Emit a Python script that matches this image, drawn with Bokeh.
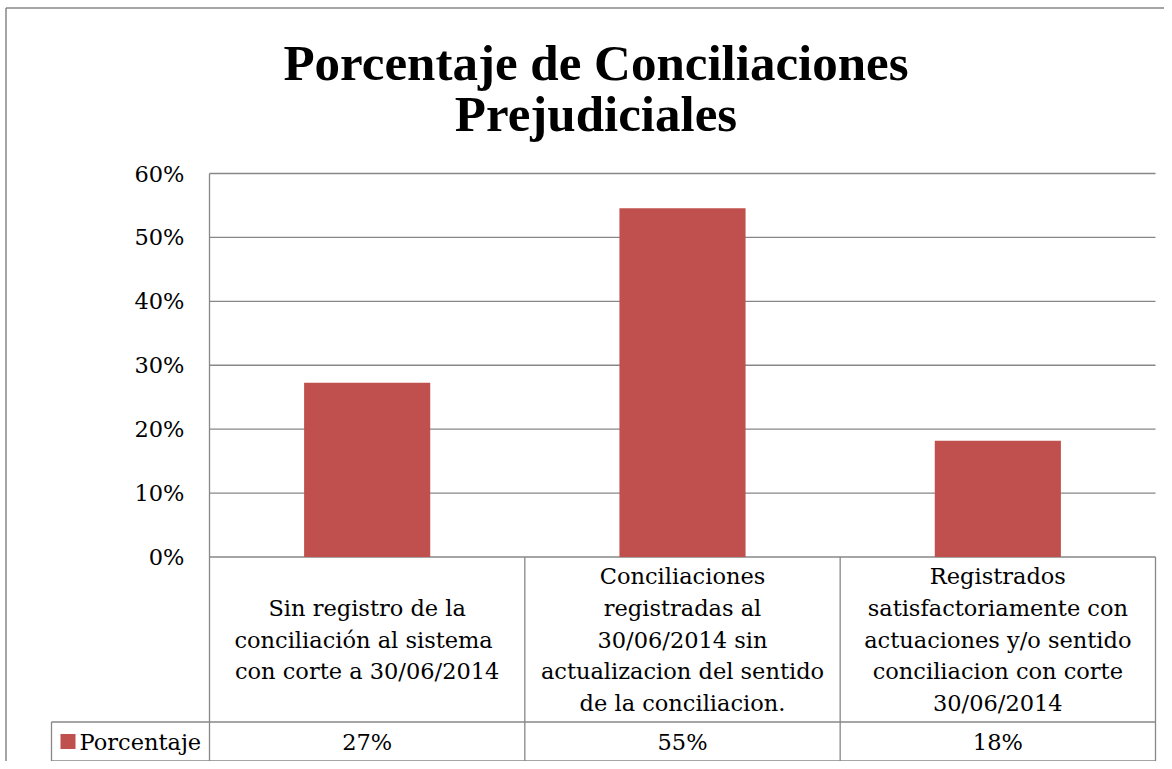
import numpy as np
from bokeh.plotting import figure
from bokeh.models import Range1d
from bokeh.core.properties import value
from bokeh.embed import file_html
from bokeh.resources import INLINE

# ---------------- data ----------------
title_lines = ["Porcentaje de Conciliaciones", "Prejudiciales"]
categories = [
    ["Sin registro de la", "conciliación  al sistema", "con corte a 30/06/2014"],
    ["Conciliaciones", "registradas al", "30/06/2014 sin",
     "actualizacion del sentido", "de la conciliacion."],
    ["Registrados", "satisfactoriamente con", "actuaciones y/o sentido",
     "conciliacion con corte", "30/06/2014"],
]
series_name = "Porcentaje"
porcentaje = [0.2727, 0.5455, 0.1818]
table_values = ["27%", "55%", "18%"]
y_ticks = [0.0, 0.1, 0.2, 0.3, 0.4, 0.5, 0.6]
y_tick_labels = ["0%", "10%", "20%", "30%", "40%", "50%", "60%"]

# ---------------- style / layout ----------------
BAR_COLOR = "#C0504D"
LINE_COLOR = "#878787"
BODY_FONT = "DejaVu Serif"
TITLE_FONT = "Liberation Serif"
FS = "22.5px"

W, H = 1164, 761
OFF = 0                      # reference px -> canvas offset
PLOT_L, PLOT_R = 209, 1155   # plot area in reference pixels
PLOT_T, PLOT_B = 173, 556.5
ROW_Y = 721.5                # line between category row and value row
TABLE_B = 760.5              # bottom of data table
LEGEND_L = 51                # left edge of legend cell
LINE_H = 31.6

n = len(categories)
sx = (PLOT_R - PLOT_L) / n
sy = (PLOT_B - PLOT_T) / max(y_ticks)


def X(px):
    return (px - PLOT_L) / sx


def Y(py):
    return (PLOT_B - py) / sy


p = figure(width=W, height=H, output_backend="svg", toolbar_location=None,
           x_range=Range1d(X(OFF), X(OFF + W)),
           y_range=Range1d(Y(OFF + H), Y(OFF)),
           x_axis_type=None, y_axis_type=None,
           min_border=0, min_border_left=0, min_border_right=0,
           min_border_top=0, min_border_bottom=0,
           outline_line_color=None)
p.grid.visible = False
p.background_fill_color = "white"
p.border_fill_color = "white"

# outer chart border (left and top visible)
p.line(x=[X(5.5), X(5.5)], y=[Y(7.5), Y(OFF + H)], line_color=LINE_COLOR, line_width=1.5)
p.line(x=[X(5.5), X(OFF + W)], y=[Y(7.5), Y(7.5)], line_color=LINE_COLOR, line_width=1.5)

# gridlines
p.segment(x0=[0] * len(y_ticks), x1=[n] * len(y_ticks), y0=y_ticks, y1=y_ticks,
          line_color=LINE_COLOR, line_width=1.3)

# bars
idx = np.arange(n) + 0.5
p.vbar(x=idx, top=porcentaje, bottom=0, width=0.4, fill_color=BAR_COLOR, line_color=None)

# value axis line + table verticals
p.segment(x0=[0], x1=[0], y0=[max(y_ticks)], y1=[Y(TABLE_B)], line_color=LINE_COLOR, line_width=1.3)
p.segment(x0=list(range(1, n + 1)), x1=list(range(1, n + 1)),
          y0=[0] * n, y1=[Y(TABLE_B)] * n, line_color=LINE_COLOR, line_width=1.3)
# table horizontals
p.segment(x0=[X(LEGEND_L), X(LEGEND_L)], x1=[n, n], y0=[Y(ROW_Y), Y(TABLE_B)],
          y1=[Y(ROW_Y), Y(TABLE_B)], line_color=LINE_COLOR, line_width=1.3)
p.segment(x0=[X(LEGEND_L)], x1=[X(LEGEND_L)], y0=[Y(ROW_Y)], y1=[Y(TABLE_B)],
          line_color=LINE_COLOR, line_width=1.3)

# y tick labels
p.text(x=[X(184)] * len(y_ticks), y=y_ticks, text=y_tick_labels,
       text_align="right", text_baseline="middle",
       text_font=value(BODY_FONT), text_font_size=FS, text_color="black")

# category labels in table
cell_mid = (PLOT_B + ROW_Y) / 2
cx, cy, ct = [], [], []
for i, lines in enumerate(categories):
    m = len(lines)
    for k, t in enumerate(lines):
        cx.append(i + 0.5)
        cy.append(Y(cell_mid + (k - (m - 1) / 2) * LINE_H))
        ct.append(t)
p.text(x=cx, y=cy, text=ct, text_align="center", text_baseline="middle",
       text_font=value(BODY_FONT), text_font_size=FS, text_color="black")

# value row
row_mid = (ROW_Y + TABLE_B) / 2
p.text(x=list(idx), y=[Y(row_mid)] * n, text=table_values,
       text_align="center", text_baseline="middle",
       text_font=value(BODY_FONT), text_font_size=FS, text_color="black")

# legend key in table
p.scatter(x=[X(67.5)], y=[Y(row_mid)], marker="square", size=15,
          fill_color=BAR_COLOR, line_color=None)
p.text(x=[X(79)], y=[Y(row_mid)], text=[series_name], text_align="left",
       text_baseline="middle", text_font=value(BODY_FONT), text_font_size=FS, text_color="black")

# title (two centred lines)
p.text(x=[X(595.5)] * 2, y=[Y(62), Y(113)], text=title_lines,
       text_align="center", text_baseline="middle",
       text_font=value(TITLE_FONT), text_font_style="bold", text_font_size="51px",
       text_color="black")

open("out.html", "w").write(file_html(p, INLINE))
